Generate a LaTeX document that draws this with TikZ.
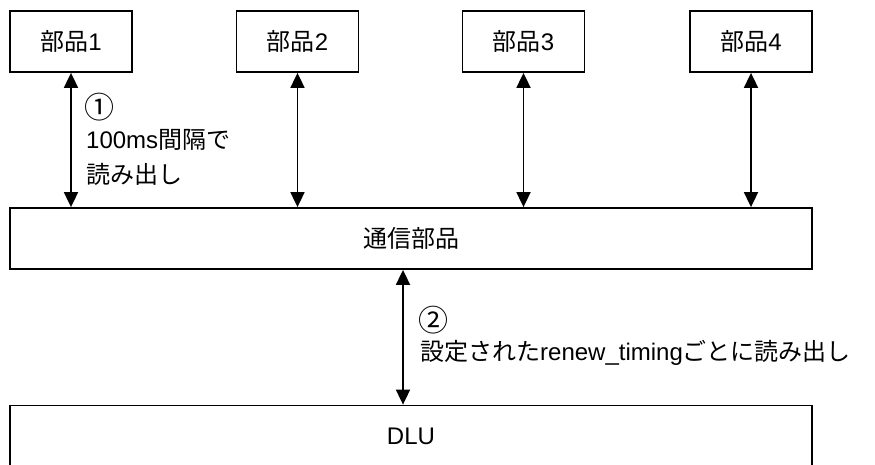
\documentclass[tikz,border=0pt]{standalone}
\usepackage{fontspec}
\setmainfont{Liberation Sans}
\newfontfamily\jp{Noto Sans CJK JP}
\usetikzlibrary{arrows.meta}
\begin{document}
\begin{tikzpicture}[x=1pt,y=-1pt,
  box/.style={draw=black,line width=1.8pt,minimum width=122pt,minimum height=61pt,inner sep=0pt,font=\fontsize{24}{28}\selectfont},
  wide/.style={draw=black,line width=1.8pt,minimum width=802pt,minimum height=61pt,inner sep=0pt,font=\fontsize{24}{28}\selectfont},
  lbl/.style={anchor=west,inner sep=0pt,font=\fontsize{24}{28}\selectfont},
  num/.style={anchor=west,inner sep=0pt,font=\jp\fontsize{30}{34}\selectfont},
  link/.style={line width=1.8pt,{Triangle[width=14pt,length=15pt]}-{Triangle[width=14pt,length=15pt]}}]
\useasboundingbox (0,0) rectangle (875,464);
\node[box] (p1) at (71,41.5) {{\jp 部品}1};
\node[box] (p2) at (297.5,41.5) {{\jp 部品}2};
\node[box] (p3) at (523.5,41.5) {{\jp 部品}3};
\node[box] (p4) at (751,41.5) {{\jp 部品}4};
\node[wide] (comm) at (411,238.5) {\jp 通信部品};
\node[wide] (dlu) at (411,436) {DLU};
\draw[link] (p1.south) -- (p1.south |- comm.north);
\draw[link] (p2.south) -- (p2.south |- comm.north);
\draw[link] (p3.south) -- (p3.south |- comm.north);
\draw[link] (p4.south) -- (p4.south |- comm.north);
\coordinate (c2) at (403,0);
\draw[link] (c2 |- comm.south) -- (c2 |- dlu.north);
\node[num] (l1a) at (84,107) {①};
\node[lbl] (l1b) at (86,140) {100ms{\jp 間隔で}};
\node[lbl] (l1c) at (86,174) {\jp 読み出し};
\node[num] (l2a) at (418,320) {②};
\node[lbl] (l2b) at (420,353) {{\jp 設定された}renew\_timing{\jp ごとに読み出し}};
\end{tikzpicture}
\end{document}
